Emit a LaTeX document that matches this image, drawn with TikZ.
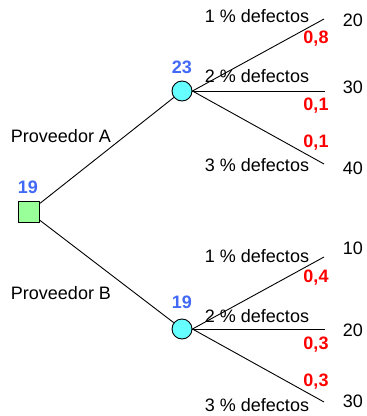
\documentclass[tikz,border=0pt]{standalone}
\usepackage{fontspec}
\setmainfont{Liberation Sans}
\definecolor{decgreen}{RGB}{153,255,153}
\definecolor{chancecyan}{RGB}{102,255,255}
\definecolor{valblue}{RGB}{65,105,245}
\begin{document}
\begin{tikzpicture}[x=1pt, y=-1pt, line width=0.9pt,
    decision/.style={rectangle, draw, fill=decgreen, minimum size=21pt, inner sep=0pt},
    chance/.style={circle, draw, fill=chancecyan, minimum size=20pt, inner sep=0pt},
    txt/.style={font=\fontsize{18}{20}\selectfont},
    val/.style={font=\fontsize{18}{20}\selectfont\bfseries, text=valblue},
    prob/.style={font=\fontsize{18}{20}\selectfont\bfseries, text=red}]
    \useasboundingbox (0,0) rectangle (367,416);
    % nodes of the tree
    \node [decision] (dec) at (29,212) {};
    \node [chance] (chA) at (182,91) {};
    \node [chance] (chB) at (182,329) {};
    \coordinate (a1) at (324,19);
    \coordinate (a2) at (325,91);
    \coordinate (a3) at (324,164);
    \coordinate (b1) at (324,257);
    \coordinate (b2) at (325,329);
    \coordinate (b3) at (324,402);

    \draw (dec) -- (chA);
    \draw (dec) -- (chB);
    \draw (chA.east) -- (a1);
    \draw (chA.east) -- (a2);
    \draw (chA.east) -- (a3);
    \draw (chB.east) -- (b1);
    \draw (chB.east) -- (b2);
    \draw (chB.east) -- (b3);

    % expected values
    \node [val] (vdec) at (28,187) {19};
    \node [val] (vA) at (182,67) {23};
    \node [val] (vB) at (182,302) {19};

    \begin{scope}[every node/.style={txt}]
      \node (provA) at (61,136) {Proveedor A};
      \node (provB) at (61,293) {Proveedor B};
      \node (dA1) at (257,16) {1 \% defectos};
      \node (dA2) at (257,76) {2 \% defectos};
      \node (dA3) at (257,165) {3 \% defectos};
      \node (dB1) at (257,256) {1 \% defectos};
      \node (dB2) at (257,316) {2 \% defectos};
      \node (dB3) at (257,405) {3 \% defectos};
      \node (pA1) at (353,20) {20};
      \node (pA2) at (353,87) {30};
      \node (pA3) at (353,168) {40};
      \node (pB1) at (353,248) {10};
      \node (pB2) at (353,330) {20};
      \node (pB3) at (353,401) {30};
    \end{scope}

    % probabilities
    \node [prob] (qA1) at (316,39) {0,8};
    \node [prob] (qA2) at (316,106) {0,1};
    \node [prob] (qA3) at (316,143) {0,1};
    \node [prob] (qB1) at (316,278) {0,4};
    \node [prob] (qB2) at (316,345) {0,3};
    \node [prob] (qB3) at (316,382) {0,3};
\end{tikzpicture}
\end{document}
